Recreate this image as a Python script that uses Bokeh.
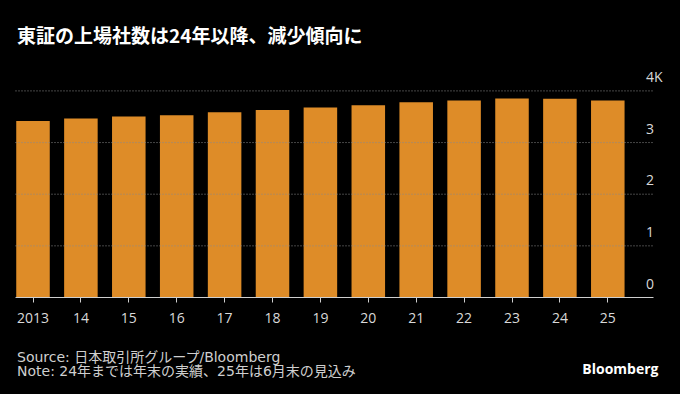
from bokeh.plotting import figure
from bokeh.layouts import column
from bokeh.models import Range1d, FixedTicker
from bokeh.core.properties import value
from bokeh.embed import file_html
from bokeh.resources import INLINE

# ---- data ----
years = ["2013", "14", "15", "16", "17", "18", "19", "20", "21", "22", "23", "24", "25"]
companies = [3419, 3466, 3504, 3530, 3588, 3632, 3679, 3723, 3781, 3814, 3853, 3849, 3814]
y_ticks = [0, 1000, 2000, 3000, 4000]
y_tick_labels = ["0", "1", "2", "3", "4K"]
title_text = "東証の上場社数は24年以降、減少傾向に"
source_text = "Source: 日本取引所グループ/Bloomberg"
note_text = "Note: 24年までは年末の実績、25年は6月末の見込み"
brand_text = "Bloomberg"

# ---- styling ----
BG = "#000000"
BAR = "#de8c28"
TICK_TXT = "#d9d9d9"
FOOT_TXT = "#cfcfcf"
GRID = "#8a8a8a"
FOOT_FONT = "DejaVu Sans, Noto Sans CJK JP"

W = 680
HEAD_H = 58
MAIN_H = 282
FOOT_H = 54
BOTTOM = 43


def blank_fig(h, y0):
    f = figure(width=W, height=h, output_backend="svg", toolbar_location=None,
               x_range=Range1d(0, W), y_range=Range1d(y0 + h, y0),
               x_axis_location=None, y_axis_location=None,
               min_border_left=0, min_border_right=0,
               min_border_top=0, min_border_bottom=0,
               background_fill_color=BG, border_fill_color=BG,
               outline_line_color=None)
    f.grid.visible = False
    return f


# ---- header ----
head = blank_fig(HEAD_H, 0)
head.text(x=[16.5], y=[34], text=[title_text],
          text_font=value("Noto Sans CJK JP"), text_font_size="19px",
          text_font_style="bold", text_color="#ffffff",
          text_align="left", text_baseline="middle")

# ---- main chart ----
step = 47.9
first_c = 32.5
x_start = -first_c / step
x_end = x_start + W / step
frame_h = MAIN_H - BOTTOM
px_per_k = (297.3 - 90.7) / 4.0
y_end = frame_h / px_per_k * 1000.0

p = figure(width=W, height=MAIN_H, output_backend="svg", toolbar_location=None,
           x_range=Range1d(x_start, x_end), y_range=Range1d(0, y_end),
           y_axis_location=None,
           min_border_left=0, min_border_right=0,
           min_border_top=0, min_border_bottom=BOTTOM,
           background_fill_color=BG, border_fill_color=BG,
           outline_line_color=None)
p.grid.visible = False

idx = list(range(len(years)))
p.vbar(x=idx, top=companies, width=0.70, fill_color=BAR, line_color=None)

g_left = (15 - first_c) / step
g_right = (653 - first_c) / step
gy = y_ticks[1:]
p.segment(x0=[g_left] * len(gy), x1=[g_right] * len(gy), y0=gy, y1=gy,
          line_color=GRID, line_width=1, line_dash="1 2")

lab_x = (645.5 - first_c) / step
p.text(x=[lab_x] * len(y_ticks), y=y_ticks, text=y_tick_labels,
       text_font=value("Open Sans"), text_font_size="14px", text_color=TICK_TXT,
       text_align="left", text_baseline="alphabetic", y_offset=-14)

ax = p.xaxis[0]
ax.ticker = FixedTicker(ticks=idx)
ax.major_label_overrides = {i: s for i, s in enumerate(years)}
ax.bounds = (g_left, g_right)
ax.axis_line_color = "#cfcfcf"
ax.axis_line_width = 1
ax.major_tick_line_color = "#cfcfcf"
ax.major_tick_out = 5
ax.major_tick_in = 0
ax.minor_tick_line_color = None
ax.major_label_text_font = "Open Sans"
ax.major_label_text_font_size = "14px"
ax.major_label_text_color = TICK_TXT
ax.major_label_standoff = 10

# ---- footer ----
foot_y0 = HEAD_H + MAIN_H
foot = blank_fig(FOOT_H, foot_y0)
foot.text(x=[16.5, 16.5], y=[356.3, 370.3], text=[source_text, note_text],
          text_font=value(FOOT_FONT), text_font_size="14px", text_color=FOOT_TXT,
          text_align="left", text_baseline="middle")
foot.text(x=[658], y=[367.5], text=[brand_text],
          text_font=value("Open Sans"), text_font_size="14px",
          text_font_style="bold", text_color="#ffffff",
          text_align="right", text_baseline="middle")

layout = column(head, p, foot, spacing=0)

html = file_html(layout, INLINE)
html = html.replace("</head>", "<style>html,body{background:#000000;}</style></head>", 1)
open("out.html", "w").write(html)
